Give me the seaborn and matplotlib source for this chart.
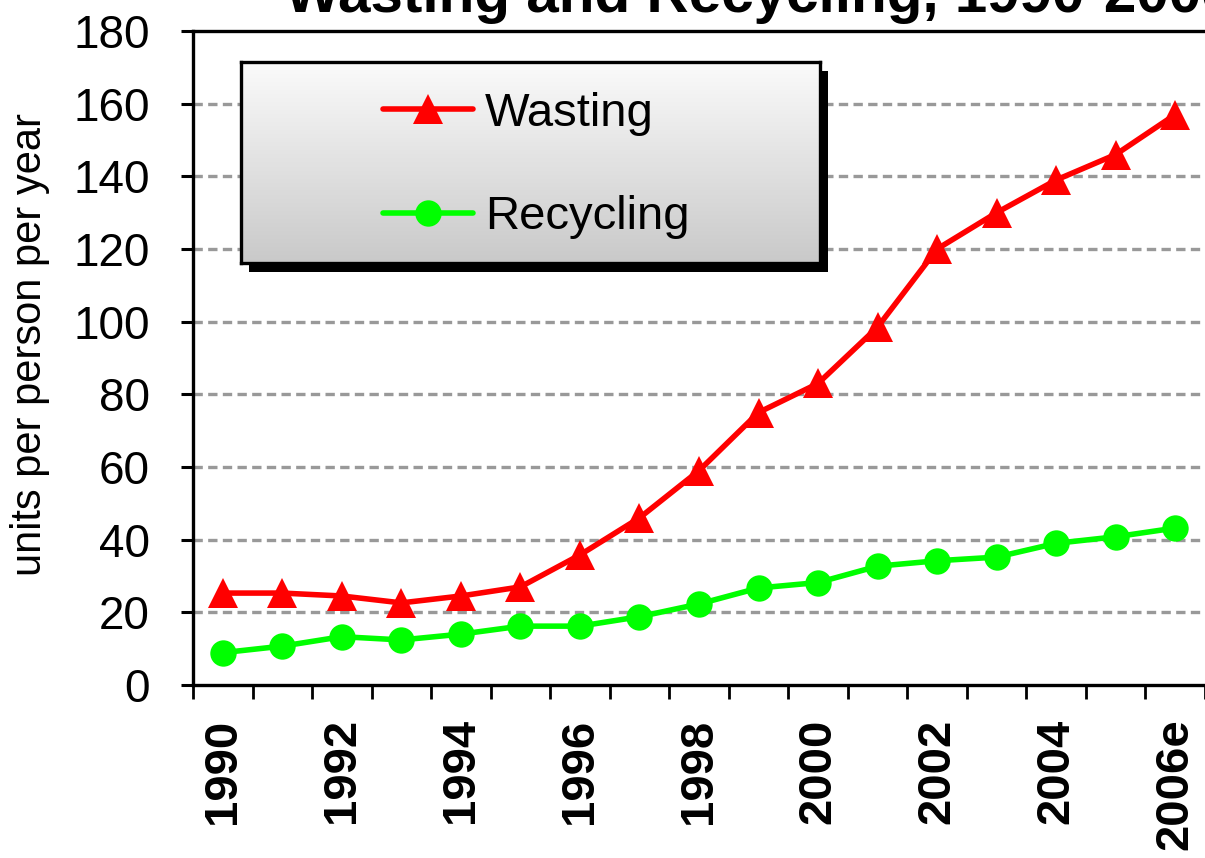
import numpy as np
import pandas as pd
import matplotlib
matplotlib.use("Agg")
import matplotlib.pyplot as plt
from matplotlib.patches import Rectangle
import seaborn as sns

# data
years = ["1990", "1991", "1992", "1993", "1994", "1995", "1996", "1997", "1998",
         "1999", "2000", "2001", "2002", "2003", "2004", "2005", "2006e"]
wasting = [25.3, 25.3, 24.5, 22.6, 24.5, 27, 35.8, 46, 59, 75, 83, 98.5, 120, 130, 139, 146, 157]
recycling = [8.9, 10.7, 13.3, 12.4, 14, 16.2, 16.2, 18.8, 22.3, 26.7, 28.2, 32.7, 34.2, 35.2, 39, 40.8, 43.2]
title = "Wasting and Recycling, 1990-2006"

sns.set_style("white")
plt.rcParams['font.family'] = ['Liberation Sans', 'DejaVu Sans']
plt.rcParams['text.color'] = 'black'
plt.rcParams['axes.labelcolor'] = 'black'
plt.rcParams['xtick.color'] = 'black'
plt.rcParams['ytick.color'] = 'black'

df = pd.DataFrame({"idx": np.arange(len(years)), "year": years,
                   "Wasting": wasting, "Recycling": recycling})

fig = plt.figure(figsize=(12.05, 8.58), dpi=100)
fig.patch.set_facecolor("white")
ax = fig.add_axes([193/1205, 1 - 685/858, (1205 - 193)/1205, (685 - 31)/858])
ax.set_facecolor("white")

sns.lineplot(data=df, x="idx", y="Wasting", ax=ax, color="#ff0000", marker="^",
             markersize=22, markeredgewidth=0, linewidth=4, label="Wasting", legend=False)
sns.lineplot(data=df, x="idx", y="Recycling", ax=ax, color="#00ff00", marker="o",
             markersize=19, markeredgewidth=0, linewidth=4, label="Recycling", legend=False)

ax.set_xlim(-0.5, len(years) - 0.5)
ax.set_ylim(0, 180)
ax.set_yticks(np.arange(0, 181, 20))
ax.set_xticks(np.arange(0, len(years), 2))
ax.set_xticklabels(years[::2], rotation=90, fontsize=34, fontweight="bold")
ax.set_xticks(np.arange(-0.5, len(years), 1), minor=True)
ax.tick_params(axis="x", which="both", bottom=True)
ax.tick_params(axis="x", which="major", length=0, pad=24)
ax.tick_params(axis="x", which="minor", length=10, width=2, color="black", direction="out")
ax.tick_params(axis="y", which="major", left=True, length=9, width=2.2, color="black",
               direction="out", pad=22, labelsize=33)
ax.set_xlabel("")
ax.set_ylabel("units per person per year", fontsize=30)
ax.yaxis.set_label_coords(-0.141, 0.52)

for y in range(20, 180, 20):
    ax.axhline(y, color="#999999", linewidth=2.4, linestyle=(0, (2.8, 1.6)), zorder=0.5)

for side in ["left", "bottom", "top"]:
    ax.spines[side].set_visible(True)
    ax.spines[side].set_color("black")
    ax.spines[side].set_linewidth(2.4)
ax.spines["right"].set_visible(False)

# title, cut off at the top like the reference
fig.text(285/1205, 1 - 12/858, title, fontsize=42, fontweight="bold",
         ha="left", va="baseline")

# legend box with gradient and shadow
lx0, ly0, lx1, ly1 = 241, 62, 820, 263
shadow = Rectangle(((lx0 + 8)/1205, 1 - (ly1 + 9)/858), (lx1 - lx0)/1205, (ly1 - ly0)/858,
                   transform=fig.transFigure, facecolor="black", edgecolor="none", zorder=1)
fig.add_artist(shadow)
lax = fig.add_axes([lx0/1205, 1 - ly1/858, (lx1 - lx0)/1205, (ly1 - ly0)/858], zorder=2)
grad = np.linspace(0, 1, 256).reshape(-1, 1)
lax.imshow(grad, aspect="auto", cmap=matplotlib.colors.LinearSegmentedColormap.from_list(
    "g", ["#fbfbfb", "#c9c9c9"]), extent=[0, 1, 0, 1], origin="upper")
lax.set_xticks([])
lax.set_yticks([])
for s in lax.spines.values():
    s.set_color("black")
    s.set_linewidth(2.4)
handles, labels = ax.get_legend_handles_labels()
lax.legend(handles, labels, loc="center", frameon=False, fontsize=34,
           handlelength=1.9, handletextpad=0.25, labelspacing=1.25,
           bbox_to_anchor=(0.51, 0.485))

fig.savefig("out.png", dpi=100)
